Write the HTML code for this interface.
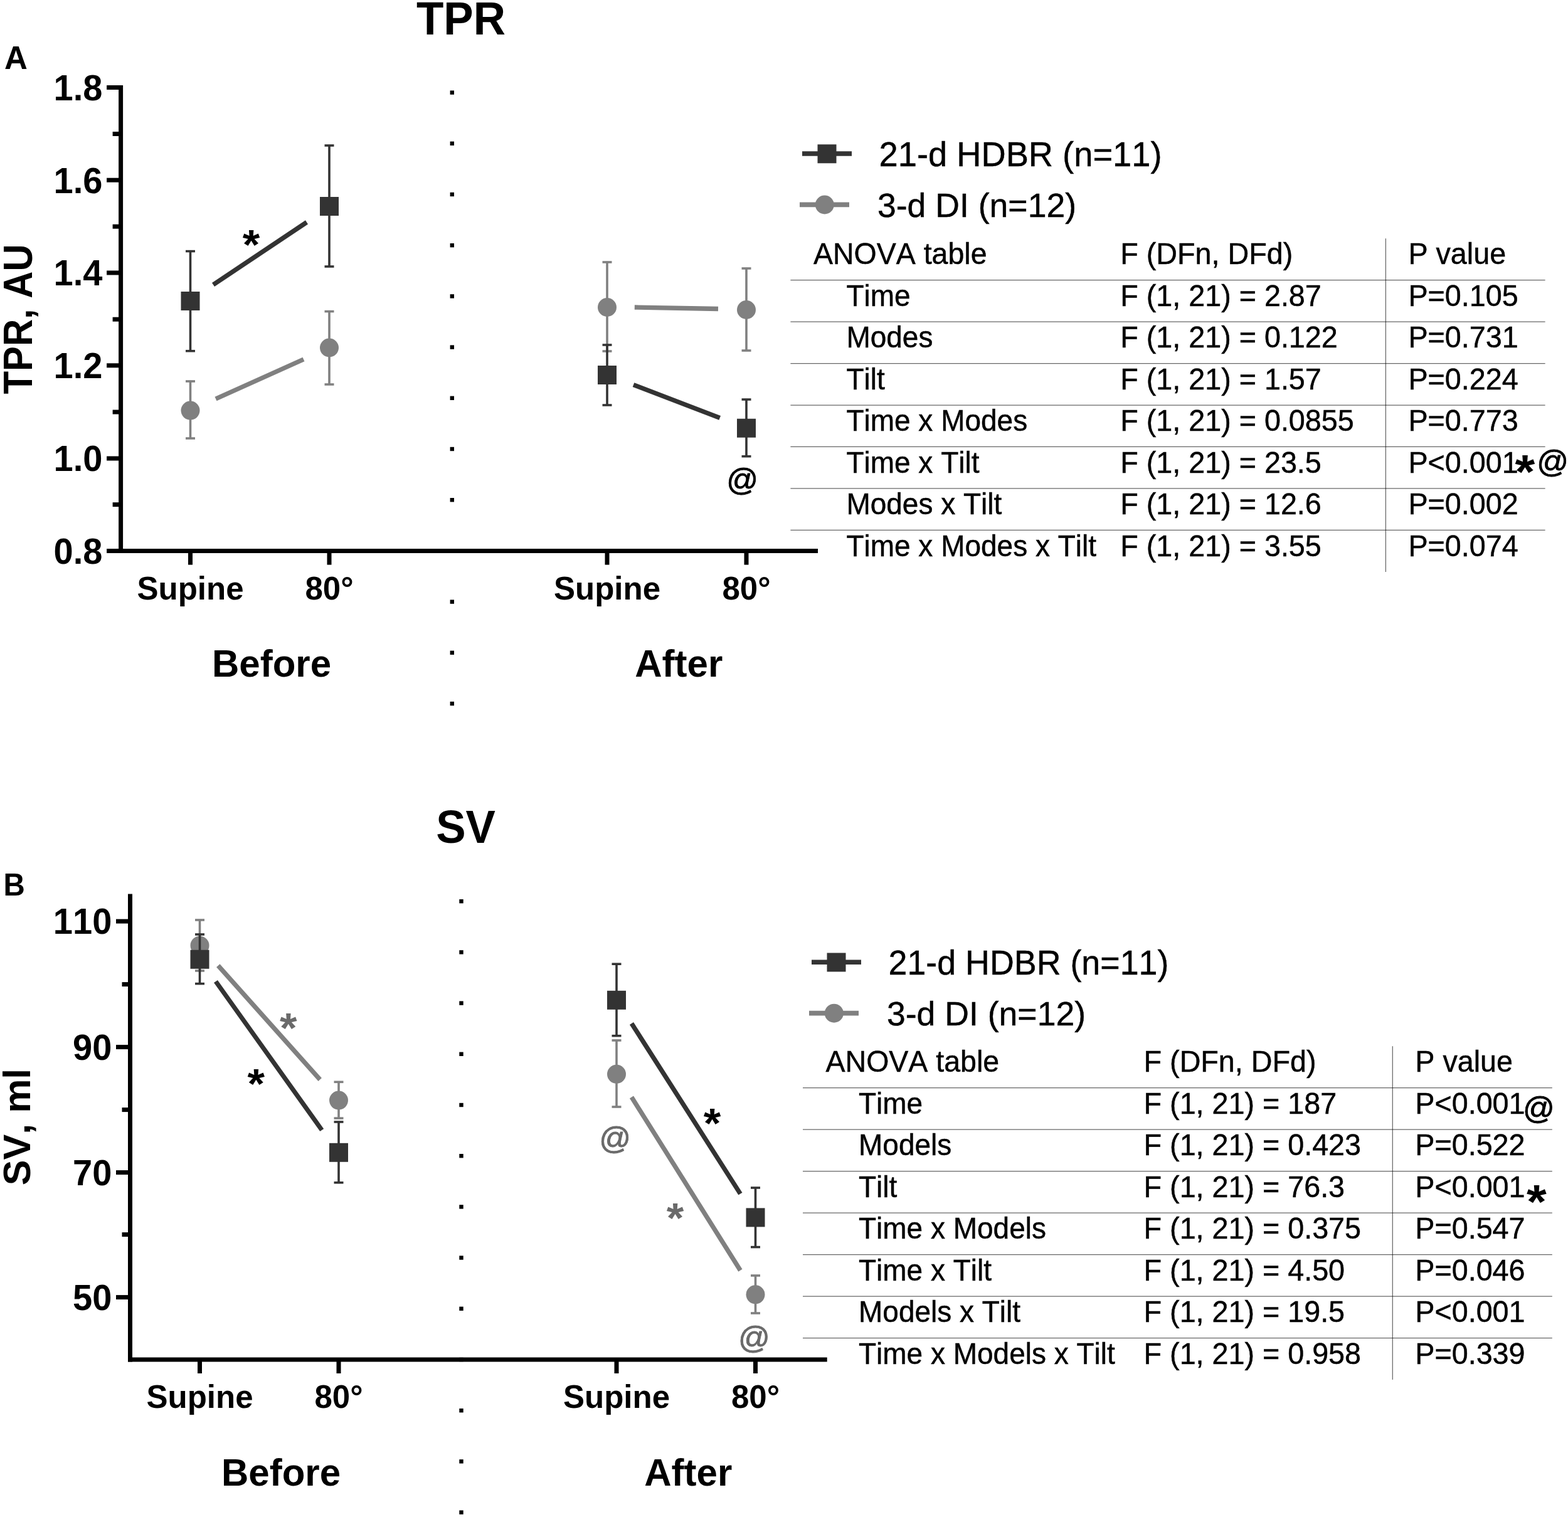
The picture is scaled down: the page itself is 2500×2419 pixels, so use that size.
<!DOCTYPE html>
<html lang="en">
<head>
<meta charset="utf-8">
<title>TPR and SV before and after 21-d HDBR and 3-d DI</title>
<style>
html, body { margin: 0; padding: 0; background: #ffffff; }
body { width: 2500px; height: 2419px; overflow: hidden; }
svg { display: block; }
svg text { font-family: "Liberation Sans", Arial, Helvetica, sans-serif; font-kerning: none; }
</style>
</head>
<body>
<svg width="2500" height="2419" viewBox="0 0 2500 2419">
<rect x="0" y="0" width="2500" height="2419" fill="#ffffff"/>
<g id="panel-a" role="img" aria-label="Panel A: TPR, AU, supine versus 80 degree tilt, before and after exposure, with ANOVA table">
<rect x="717.6" y="144.4" width="6.4" height="6.4" fill="#000000"/>
<rect x="717.6" y="225.6" width="6.4" height="6.4" fill="#000000"/>
<rect x="717.6" y="306.8" width="6.4" height="6.4" fill="#000000"/>
<rect x="717.6" y="388.0" width="6.4" height="6.4" fill="#000000"/>
<rect x="717.6" y="469.2" width="6.4" height="6.4" fill="#000000"/>
<rect x="717.6" y="550.4" width="6.4" height="6.4" fill="#000000"/>
<rect x="717.6" y="631.6" width="6.4" height="6.4" fill="#000000"/>
<rect x="717.6" y="712.8" width="6.4" height="6.4" fill="#000000"/>
<rect x="717.6" y="794.0" width="6.4" height="6.4" fill="#000000"/>
<rect x="717.6" y="875.2" width="6.4" height="6.4" fill="#000000"/>
<rect x="717.6" y="956.4" width="6.4" height="6.4" fill="#000000"/>
<rect x="717.6" y="1037.6" width="6.4" height="6.4" fill="#000000"/>
<rect x="717.6" y="1118.8" width="6.4" height="6.4" fill="#000000"/>
<line x1="192.6" y1="136.0" x2="192.6" y2="882.1" stroke="#000000" stroke-width="7" stroke-linecap="butt"/>
<line x1="170.1" y1="878.6" x2="1304.0" y2="878.6" stroke="#000000" stroke-width="7" stroke-linecap="butt"/>
<line x1="170.1" y1="139.5" x2="192.6" y2="139.5" stroke="#000000" stroke-width="7" stroke-linecap="butt"/>
<text transform="translate(163.40,159.80) scale(1.0,1.04)" font-size="56" font-weight="bold" text-anchor="end">1.8</text>
<line x1="170.1" y1="287.2" x2="192.6" y2="287.2" stroke="#000000" stroke-width="7" stroke-linecap="butt"/>
<text transform="translate(163.40,307.50) scale(1.0,1.04)" font-size="56" font-weight="bold" text-anchor="end">1.6</text>
<line x1="170.1" y1="435.0" x2="192.6" y2="435.0" stroke="#000000" stroke-width="7" stroke-linecap="butt"/>
<text transform="translate(163.40,455.30) scale(1.0,1.04)" font-size="56" font-weight="bold" text-anchor="end">1.4</text>
<line x1="170.1" y1="582.8" x2="192.6" y2="582.8" stroke="#000000" stroke-width="7" stroke-linecap="butt"/>
<text transform="translate(163.40,603.10) scale(1.0,1.04)" font-size="56" font-weight="bold" text-anchor="end">1.2</text>
<line x1="170.1" y1="731.0" x2="192.6" y2="731.0" stroke="#000000" stroke-width="7" stroke-linecap="butt"/>
<text transform="translate(163.40,751.30) scale(1.0,1.04)" font-size="56" font-weight="bold" text-anchor="end">1.0</text>
<text transform="translate(163.40,898.90) scale(1.0,1.04)" font-size="56" font-weight="bold" text-anchor="end">0.8</text>
<line x1="179.6" y1="213.5" x2="192.6" y2="213.5" stroke="#000000" stroke-width="7" stroke-linecap="butt"/>
<line x1="179.6" y1="361.2" x2="192.6" y2="361.2" stroke="#000000" stroke-width="7" stroke-linecap="butt"/>
<line x1="179.6" y1="509.2" x2="192.6" y2="509.2" stroke="#000000" stroke-width="7" stroke-linecap="butt"/>
<line x1="179.6" y1="657.0" x2="192.6" y2="657.0" stroke="#000000" stroke-width="7" stroke-linecap="butt"/>
<line x1="179.6" y1="804.6" x2="192.6" y2="804.6" stroke="#000000" stroke-width="7" stroke-linecap="butt"/>
<line x1="303.5" y1="878.6" x2="303.5" y2="900.6" stroke="#000000" stroke-width="7" stroke-linecap="butt"/>
<text transform="translate(303.50,955.60) scale(1.0,1.03)" font-size="51" font-weight="bold" text-anchor="middle">Supine</text>
<line x1="525.0" y1="878.6" x2="525.0" y2="900.6" stroke="#000000" stroke-width="7" stroke-linecap="butt"/>
<text transform="translate(525.00,955.60) scale(1.0,1.03)" font-size="51" font-weight="bold" text-anchor="middle">80°</text>
<line x1="968.0" y1="878.6" x2="968.0" y2="900.6" stroke="#000000" stroke-width="7" stroke-linecap="butt"/>
<text transform="translate(968.00,955.60) scale(1.0,1.03)" font-size="51" font-weight="bold" text-anchor="middle">Supine</text>
<line x1="1190.0" y1="878.6" x2="1190.0" y2="900.6" stroke="#000000" stroke-width="7" stroke-linecap="butt"/>
<text transform="translate(1190.00,955.60) scale(1.0,1.03)" font-size="51" font-weight="bold" text-anchor="middle">80°</text>
<text transform="translate(433.00,1079.00) scale(1.0,1.02)" font-size="60" font-weight="bold" text-anchor="middle">Before</text>
<text transform="translate(1082.30,1079.00) scale(1.0,1.02)" font-size="60" font-weight="bold" text-anchor="middle">After</text>
<text transform="translate(735.00,54.90) scale(1.0,1.04)" font-size="71" font-weight="bold" text-anchor="middle">TPR</text>
<text transform="translate(25.30,110.30)" font-size="51" font-weight="bold" text-anchor="middle">A</text>
<text transform="translate(50.50,508.90) rotate(-90) scale(1.0,1.07)" font-size="59.8" font-weight="bold" text-anchor="middle">TPR, AU</text>
<line x1="303.5" y1="400.6" x2="303.5" y2="559.7" stroke="#333333" stroke-width="3.6" stroke-linecap="butt"/>
<line x1="296.0" y1="400.6" x2="311.0" y2="400.6" stroke="#333333" stroke-width="3.6" stroke-linecap="butt"/>
<line x1="296.0" y1="559.7" x2="311.0" y2="559.7" stroke="#333333" stroke-width="3.6" stroke-linecap="butt"/>
<line x1="525.0" y1="232.0" x2="525.0" y2="425.0" stroke="#333333" stroke-width="3.6" stroke-linecap="butt"/>
<line x1="517.5" y1="232.0" x2="532.5" y2="232.0" stroke="#333333" stroke-width="3.6" stroke-linecap="butt"/>
<line x1="517.5" y1="425.0" x2="532.5" y2="425.0" stroke="#333333" stroke-width="3.6" stroke-linecap="butt"/>
<line x1="303.5" y1="608.0" x2="303.5" y2="699.0" stroke="#808080" stroke-width="3.6" stroke-linecap="butt"/>
<line x1="296.0" y1="608.0" x2="311.0" y2="608.0" stroke="#808080" stroke-width="3.6" stroke-linecap="butt"/>
<line x1="296.0" y1="699.0" x2="311.0" y2="699.0" stroke="#808080" stroke-width="3.6" stroke-linecap="butt"/>
<line x1="525.0" y1="496.6" x2="525.0" y2="613.0" stroke="#808080" stroke-width="3.6" stroke-linecap="butt"/>
<line x1="517.5" y1="496.6" x2="532.5" y2="496.6" stroke="#808080" stroke-width="3.6" stroke-linecap="butt"/>
<line x1="517.5" y1="613.0" x2="532.5" y2="613.0" stroke="#808080" stroke-width="3.6" stroke-linecap="butt"/>
<line x1="968.0" y1="418.0" x2="968.0" y2="560.0" stroke="#808080" stroke-width="3.6" stroke-linecap="butt"/>
<line x1="960.5" y1="418.0" x2="975.5" y2="418.0" stroke="#808080" stroke-width="3.6" stroke-linecap="butt"/>
<line x1="960.5" y1="560.0" x2="975.5" y2="560.0" stroke="#808080" stroke-width="3.6" stroke-linecap="butt"/>
<line x1="1190.0" y1="428.0" x2="1190.0" y2="559.0" stroke="#808080" stroke-width="3.6" stroke-linecap="butt"/>
<line x1="1182.5" y1="428.0" x2="1197.5" y2="428.0" stroke="#808080" stroke-width="3.6" stroke-linecap="butt"/>
<line x1="1182.5" y1="559.0" x2="1197.5" y2="559.0" stroke="#808080" stroke-width="3.6" stroke-linecap="butt"/>
<line x1="968.0" y1="550.0" x2="968.0" y2="646.0" stroke="#333333" stroke-width="3.6" stroke-linecap="butt"/>
<line x1="960.5" y1="550.0" x2="975.5" y2="550.0" stroke="#333333" stroke-width="3.6" stroke-linecap="butt"/>
<line x1="960.5" y1="646.0" x2="975.5" y2="646.0" stroke="#333333" stroke-width="3.6" stroke-linecap="butt"/>
<line x1="1190.0" y1="637.0" x2="1190.0" y2="727.7" stroke="#333333" stroke-width="3.6" stroke-linecap="butt"/>
<line x1="1182.5" y1="637.0" x2="1197.5" y2="637.0" stroke="#333333" stroke-width="3.6" stroke-linecap="butt"/>
<line x1="1182.5" y1="727.7" x2="1197.5" y2="727.7" stroke="#333333" stroke-width="3.6" stroke-linecap="butt"/>
<circle cx="303.5" cy="654.6" r="15" fill="#808080"/>
<circle cx="525.0" cy="554.5" r="15" fill="#808080"/>
<circle cx="968.0" cy="490.0" r="15" fill="#808080"/>
<circle cx="1190.0" cy="494.0" r="15" fill="#808080"/>
<rect x="288.5" y="465.0" width="30.0" height="30.0" fill="#333333"/>
<rect x="510.0" y="314.0" width="30.0" height="30.0" fill="#333333"/>
<rect x="953.0" y="583.0" width="30.0" height="30.0" fill="#333333"/>
<rect x="1175.0" y="667.7" width="30.0" height="30.0" fill="#333333"/>
<line x1="340.0" y1="454.0" x2="489.0" y2="354.4" stroke="#333333" stroke-width="7.3" stroke-linecap="butt"/>
<line x1="344.0" y1="636.0" x2="484.0" y2="573.0" stroke="#808080" stroke-width="7.3" stroke-linecap="butt"/>
<line x1="1011.8" y1="490.0" x2="1145.0" y2="492.5" stroke="#808080" stroke-width="7.3" stroke-linecap="butt"/>
<line x1="1010.0" y1="613.6" x2="1147.7" y2="666.4" stroke="#333333" stroke-width="7.3" stroke-linecap="butt"/>
<text transform="translate(400.60,413.00) scale(1.01,0.96)" font-size="70" font-weight="bold" text-anchor="middle">*</text>
<text transform="translate(1183.50,781.90)" font-size="50" text-anchor="middle" stroke="#000000" stroke-width="0.9">@</text>
<line x1="1279.0" y1="245.0" x2="1358.0" y2="245.0" stroke="#333333" stroke-width="7.6" stroke-linecap="butt"/>
<rect x="1303.5" y="230.3" width="30.0" height="30.0" fill="#333333"/>
<text transform="translate(1401.50,264.90) scale(0.998,1.01)" font-size="54.4" stroke="#000000" stroke-width="0.45">21-d HDBR (n=11)</text>
<line x1="1275.0" y1="326.4" x2="1354.0" y2="326.4" stroke="#808080" stroke-width="7.6" stroke-linecap="butt"/>
<circle cx="1314.8" cy="326.5" r="15" fill="#808080"/>
<text transform="translate(1398.90,346.20) scale(1.0,1.017)" font-size="53.6" stroke="#000000" stroke-width="0.45">3-d DI (n=12)</text>
<line x1="1260.4" y1="446.60" x2="2463.6" y2="446.60" stroke="#000" stroke-opacity="0.6" stroke-width="1.25"/>
<line x1="1260.4" y1="513.07" x2="2463.6" y2="513.07" stroke="#000" stroke-opacity="0.6" stroke-width="1.25"/>
<line x1="1260.4" y1="579.54" x2="2463.6" y2="579.54" stroke="#000" stroke-opacity="0.6" stroke-width="1.25"/>
<line x1="1260.4" y1="646.01" x2="2463.6" y2="646.01" stroke="#000" stroke-opacity="0.6" stroke-width="1.25"/>
<line x1="1260.4" y1="712.48" x2="2463.6" y2="712.48" stroke="#000" stroke-opacity="0.6" stroke-width="1.25"/>
<line x1="1260.4" y1="778.95" x2="2463.6" y2="778.95" stroke="#000" stroke-opacity="0.6" stroke-width="1.25"/>
<line x1="1260.4" y1="845.42" x2="2463.6" y2="845.42" stroke="#000" stroke-opacity="0.6" stroke-width="1.25"/>
<line x1="2209.40" y1="380.2" x2="2209.40" y2="911.9" stroke="#000" stroke-opacity="0.6" stroke-width="1.25"/>
<text transform="translate(1297.00,421.20) scale(0.996,1.03)" font-size="46.7" stroke="#000000" stroke-width="0.45">ANOVA table</text>
<text transform="translate(1786.30,421.20) scale(1.0,1.03)" font-size="46.7" stroke="#000000" stroke-width="0.45">F (DFn, DFd)</text>
<text transform="translate(2245.40,421.20) scale(1.0,1.03)" font-size="46.7" stroke="#000000" stroke-width="0.45">P value</text>
<text transform="translate(1349.40,487.70) scale(0.985,1.03)" font-size="46.7" stroke="#000000" stroke-width="0.45">Time</text>
<text transform="translate(1786.30,487.70) scale(1.0,1.03)" font-size="46.7" stroke="#000000" stroke-width="0.45">F (1, 21) = 2.87</text>
<text transform="translate(2245.40,487.70) scale(1.0,1.03)" font-size="46.7" stroke="#000000" stroke-width="0.45">P=0.105</text>
<text transform="translate(1349.40,554.17) scale(0.985,1.03)" font-size="46.7" stroke="#000000" stroke-width="0.45">Modes</text>
<text transform="translate(1786.30,554.17) scale(1.0,1.03)" font-size="46.7" stroke="#000000" stroke-width="0.45">F (1, 21) = 0.122</text>
<text transform="translate(2245.40,554.17) scale(1.0,1.03)" font-size="46.7" stroke="#000000" stroke-width="0.45">P=0.731</text>
<text transform="translate(1349.40,620.64) scale(0.985,1.03)" font-size="46.7" stroke="#000000" stroke-width="0.45">Tilt</text>
<text transform="translate(1786.30,620.64) scale(1.0,1.03)" font-size="46.7" stroke="#000000" stroke-width="0.45">F (1, 21) = 1.57</text>
<text transform="translate(2245.40,620.64) scale(1.0,1.03)" font-size="46.7" stroke="#000000" stroke-width="0.45">P=0.224</text>
<text transform="translate(1349.40,687.11) scale(0.985,1.03)" font-size="46.7" stroke="#000000" stroke-width="0.45">Time x Modes</text>
<text transform="translate(1786.30,687.11) scale(1.0,1.03)" font-size="46.7" stroke="#000000" stroke-width="0.45">F (1, 21) = 0.0855</text>
<text transform="translate(2245.40,687.11) scale(1.0,1.03)" font-size="46.7" stroke="#000000" stroke-width="0.45">P=0.773</text>
<text transform="translate(1349.40,753.58) scale(0.985,1.03)" font-size="46.7" stroke="#000000" stroke-width="0.45">Time x Tilt</text>
<text transform="translate(1786.30,753.58) scale(1.0,1.03)" font-size="46.7" stroke="#000000" stroke-width="0.45">F (1, 21) = 23.5</text>
<text transform="translate(2245.40,753.58) scale(1.0,1.03)" font-size="46.7" stroke="#000000" stroke-width="0.45">P&lt;0.001</text>
<text transform="translate(1349.40,820.05) scale(0.985,1.03)" font-size="46.7" stroke="#000000" stroke-width="0.45">Modes x Tilt</text>
<text transform="translate(1786.30,820.05) scale(1.0,1.03)" font-size="46.7" stroke="#000000" stroke-width="0.45">F (1, 21) = 12.6</text>
<text transform="translate(2245.40,820.05) scale(1.0,1.03)" font-size="46.7" stroke="#000000" stroke-width="0.45">P=0.002</text>
<text transform="translate(1349.40,886.52) scale(0.985,1.03)" font-size="46.7" stroke="#000000" stroke-width="0.45">Time x Modes x Tilt</text>
<text transform="translate(1786.30,886.52) scale(1.0,1.03)" font-size="46.7" stroke="#000000" stroke-width="0.45">F (1, 21) = 3.55</text>
<text transform="translate(2245.40,886.52) scale(1.0,1.03)" font-size="46.7" stroke="#000000" stroke-width="0.45">P=0.074</text>
<text transform="translate(2415.60,777.70) scale(1.02,0.94)" font-size="80" font-weight="bold">*</text>
<text transform="translate(2450.20,753.40)" font-size="50" stroke="#000000" stroke-width="0.9">@</text>
</g>
<g id="panel-b" role="img" aria-label="Panel B: SV, ml, supine versus 80 degree tilt, before and after exposure, with ANOVA table">
<rect x="732.3" y="1434.0" width="6.4" height="6.4" fill="#000000"/>
<rect x="732.3" y="1515.2" width="6.4" height="6.4" fill="#000000"/>
<rect x="732.3" y="1596.4" width="6.4" height="6.4" fill="#000000"/>
<rect x="732.3" y="1677.6" width="6.4" height="6.4" fill="#000000"/>
<rect x="732.3" y="1758.8" width="6.4" height="6.4" fill="#000000"/>
<rect x="732.3" y="1840.0" width="6.4" height="6.4" fill="#000000"/>
<rect x="732.3" y="1921.2" width="6.4" height="6.4" fill="#000000"/>
<rect x="732.3" y="2002.4" width="6.4" height="6.4" fill="#000000"/>
<rect x="732.3" y="2083.6" width="6.4" height="6.4" fill="#000000"/>
<rect x="732.3" y="2164.8" width="6.4" height="6.4" fill="#000000"/>
<rect x="732.3" y="2246.0" width="6.4" height="6.4" fill="#000000"/>
<rect x="732.3" y="2327.2" width="6.4" height="6.4" fill="#000000"/>
<rect x="732.3" y="2408.4" width="6.4" height="6.4" fill="#000000"/>
<line x1="207.5" y1="1425.4" x2="207.5" y2="2171.5" stroke="#000000" stroke-width="7" stroke-linecap="butt"/>
<line x1="204.0" y1="2168.0" x2="1318.7" y2="2168.0" stroke="#000000" stroke-width="7" stroke-linecap="butt"/>
<line x1="185.0" y1="1469.1" x2="207.5" y2="1469.1" stroke="#000000" stroke-width="7" stroke-linecap="butt"/>
<text transform="translate(178.30,1489.40) scale(1.0,1.04)" font-size="56" font-weight="bold" text-anchor="end">110</text>
<line x1="185.0" y1="1669.6" x2="207.5" y2="1669.6" stroke="#000000" stroke-width="7" stroke-linecap="butt"/>
<text transform="translate(178.30,1689.90) scale(1.0,1.04)" font-size="56" font-weight="bold" text-anchor="end">90</text>
<line x1="185.0" y1="1869.6" x2="207.5" y2="1869.6" stroke="#000000" stroke-width="7" stroke-linecap="butt"/>
<text transform="translate(178.30,1889.90) scale(1.0,1.04)" font-size="56" font-weight="bold" text-anchor="end">70</text>
<line x1="185.0" y1="2068.6" x2="207.5" y2="2068.6" stroke="#000000" stroke-width="7" stroke-linecap="butt"/>
<text transform="translate(178.30,2088.90) scale(1.0,1.04)" font-size="56" font-weight="bold" text-anchor="end">50</text>
<line x1="194.5" y1="1569.6" x2="207.5" y2="1569.6" stroke="#000000" stroke-width="7" stroke-linecap="butt"/>
<line x1="194.5" y1="1769.6" x2="207.5" y2="1769.6" stroke="#000000" stroke-width="7" stroke-linecap="butt"/>
<line x1="194.5" y1="1968.6" x2="207.5" y2="1968.6" stroke="#000000" stroke-width="7" stroke-linecap="butt"/>
<line x1="318.5" y1="2168.0" x2="318.5" y2="2190.0" stroke="#000000" stroke-width="7" stroke-linecap="butt"/>
<text transform="translate(318.50,2245.00) scale(1.0,1.03)" font-size="51" font-weight="bold" text-anchor="middle">Supine</text>
<line x1="540.0" y1="2168.0" x2="540.0" y2="2190.0" stroke="#000000" stroke-width="7" stroke-linecap="butt"/>
<text transform="translate(540.00,2245.00) scale(1.0,1.03)" font-size="51" font-weight="bold" text-anchor="middle">80°</text>
<line x1="983.0" y1="2168.0" x2="983.0" y2="2190.0" stroke="#000000" stroke-width="7" stroke-linecap="butt"/>
<text transform="translate(983.00,2245.00) scale(1.0,1.03)" font-size="51" font-weight="bold" text-anchor="middle">Supine</text>
<line x1="1204.5" y1="2168.0" x2="1204.5" y2="2190.0" stroke="#000000" stroke-width="7" stroke-linecap="butt"/>
<text transform="translate(1204.50,2245.00) scale(1.0,1.03)" font-size="51" font-weight="bold" text-anchor="middle">80°</text>
<text transform="translate(448.00,2369.00) scale(1.0,1.02)" font-size="60" font-weight="bold" text-anchor="middle">Before</text>
<text transform="translate(1097.30,2369.00) scale(1.0,1.02)" font-size="60" font-weight="bold" text-anchor="middle">After</text>
<text transform="translate(742.50,1344.40) scale(1.0,1.04)" font-size="71" font-weight="bold" text-anchor="middle">SV</text>
<text transform="translate(22.60,1427.50) scale(1.0,1.05)" font-size="47.5" font-weight="bold" text-anchor="middle">B</text>
<text transform="translate(48.40,1796.90) rotate(-90)" font-size="61.0" font-weight="bold" text-anchor="middle">SV, ml</text>
<line x1="318.5" y1="1467.0" x2="318.5" y2="1548.0" stroke="#808080" stroke-width="3.6" stroke-linecap="butt"/>
<line x1="311.0" y1="1467.0" x2="326.0" y2="1467.0" stroke="#808080" stroke-width="3.6" stroke-linecap="butt"/>
<line x1="311.0" y1="1548.0" x2="326.0" y2="1548.0" stroke="#808080" stroke-width="3.6" stroke-linecap="butt"/>
<line x1="540.0" y1="1725.3" x2="540.0" y2="1783.1" stroke="#808080" stroke-width="3.6" stroke-linecap="butt"/>
<line x1="532.5" y1="1725.3" x2="547.5" y2="1725.3" stroke="#808080" stroke-width="3.6" stroke-linecap="butt"/>
<line x1="532.5" y1="1783.1" x2="547.5" y2="1783.1" stroke="#808080" stroke-width="3.6" stroke-linecap="butt"/>
<circle cx="318.5" cy="1507.7" r="15" fill="#808080"/>
<circle cx="540.0" cy="1754.6" r="15" fill="#808080"/>
<line x1="318.5" y1="1490.0" x2="318.5" y2="1568.6" stroke="#333333" stroke-width="3.6" stroke-linecap="butt"/>
<line x1="311.0" y1="1490.0" x2="326.0" y2="1490.0" stroke="#333333" stroke-width="3.6" stroke-linecap="butt"/>
<line x1="311.0" y1="1568.6" x2="326.0" y2="1568.6" stroke="#333333" stroke-width="3.6" stroke-linecap="butt"/>
<line x1="540.0" y1="1789.0" x2="540.0" y2="1885.8" stroke="#333333" stroke-width="3.6" stroke-linecap="butt"/>
<line x1="532.5" y1="1789.0" x2="547.5" y2="1789.0" stroke="#333333" stroke-width="3.6" stroke-linecap="butt"/>
<line x1="532.5" y1="1885.8" x2="547.5" y2="1885.8" stroke="#333333" stroke-width="3.6" stroke-linecap="butt"/>
<line x1="983.0" y1="1659.0" x2="983.0" y2="1765.0" stroke="#808080" stroke-width="3.6" stroke-linecap="butt"/>
<line x1="975.5" y1="1659.0" x2="990.5" y2="1659.0" stroke="#808080" stroke-width="3.6" stroke-linecap="butt"/>
<line x1="975.5" y1="1765.0" x2="990.5" y2="1765.0" stroke="#808080" stroke-width="3.6" stroke-linecap="butt"/>
<line x1="1204.5" y1="2034.0" x2="1204.5" y2="2094.0" stroke="#808080" stroke-width="3.6" stroke-linecap="butt"/>
<line x1="1197.0" y1="2034.0" x2="1212.0" y2="2034.0" stroke="#808080" stroke-width="3.6" stroke-linecap="butt"/>
<line x1="1197.0" y1="2094.0" x2="1212.0" y2="2094.0" stroke="#808080" stroke-width="3.6" stroke-linecap="butt"/>
<circle cx="983.0" cy="1712.8" r="15" fill="#808080"/>
<circle cx="1204.5" cy="2064.3" r="15" fill="#808080"/>
<line x1="983.0" y1="1537.2" x2="983.0" y2="1651.7" stroke="#333333" stroke-width="3.6" stroke-linecap="butt"/>
<line x1="975.5" y1="1537.2" x2="990.5" y2="1537.2" stroke="#333333" stroke-width="3.6" stroke-linecap="butt"/>
<line x1="975.5" y1="1651.7" x2="990.5" y2="1651.7" stroke="#333333" stroke-width="3.6" stroke-linecap="butt"/>
<line x1="1204.5" y1="1894.0" x2="1204.5" y2="1988.6" stroke="#333333" stroke-width="3.6" stroke-linecap="butt"/>
<line x1="1197.0" y1="1894.0" x2="1212.0" y2="1894.0" stroke="#333333" stroke-width="3.6" stroke-linecap="butt"/>
<line x1="1197.0" y1="1988.6" x2="1212.0" y2="1988.6" stroke="#333333" stroke-width="3.6" stroke-linecap="butt"/>
<rect x="303.5" y="1514.8" width="30.0" height="30.0" fill="#333333"/>
<rect x="525.0" y="1822.8" width="30.0" height="30.0" fill="#333333"/>
<rect x="968.0" y="1579.8" width="30.0" height="30.0" fill="#333333"/>
<rect x="1189.5" y="1926.4" width="30.0" height="30.0" fill="#333333"/>
<line x1="347.8" y1="1539.8" x2="510.2" y2="1721.5" stroke="#808080" stroke-width="7.3" stroke-linecap="butt"/>
<line x1="344.0" y1="1565.0" x2="513.2" y2="1802.0" stroke="#333333" stroke-width="7.3" stroke-linecap="butt"/>
<line x1="1007.0" y1="1632.0" x2="1180.4" y2="1903.6" stroke="#333333" stroke-width="7.3" stroke-linecap="butt"/>
<line x1="1007.0" y1="1749.5" x2="1180.4" y2="2025.7" stroke="#808080" stroke-width="7.3" stroke-linecap="butt"/>
<text transform="translate(459.80,1662.10) scale(1.01,0.96)" font-size="70" font-weight="bold" text-anchor="middle" fill="#6a6a6a">*</text>
<text transform="translate(408.20,1750.90) scale(1.01,0.96)" font-size="70" font-weight="bold" text-anchor="middle">*</text>
<text transform="translate(1135.60,1813.70) scale(1.01,0.96)" font-size="70" font-weight="bold" text-anchor="middle">*</text>
<text transform="translate(1076.50,1964.90) scale(1.01,0.96)" font-size="70" font-weight="bold" text-anchor="middle" fill="#6a6a6a">*</text>
<text transform="translate(980.50,1832.30)" font-size="50" text-anchor="middle" fill="#6a6a6a" stroke="#6a6a6a" stroke-width="0.9">@</text>
<text transform="translate(1202.30,2149.80)" font-size="50" text-anchor="middle" fill="#6a6a6a" stroke="#6a6a6a" stroke-width="0.9">@</text>
<line x1="1294.0" y1="1534.2" x2="1373.0" y2="1534.2" stroke="#333333" stroke-width="7.6" stroke-linecap="butt"/>
<rect x="1318.5" y="1519.5" width="30.0" height="30.0" fill="#333333"/>
<text transform="translate(1416.50,1554.10) scale(0.989018,1.01)" font-size="54.4" stroke="#000000" stroke-width="0.45">21-d HDBR (n=11)</text>
<line x1="1290.0" y1="1615.6" x2="1369.0" y2="1615.6" stroke="#808080" stroke-width="7.6" stroke-linecap="butt"/>
<circle cx="1329.8" cy="1615.7" r="15" fill="#808080"/>
<text transform="translate(1413.90,1635.40) scale(1.0,1.017)" font-size="53.6" stroke="#000000" stroke-width="0.45">3-d DI (n=12)</text>
<line x1="1280.0" y1="1734.70" x2="2474.8" y2="1734.70" stroke="#000" stroke-opacity="0.6" stroke-width="1.25"/>
<line x1="1280.0" y1="1801.17" x2="2474.8" y2="1801.17" stroke="#000" stroke-opacity="0.6" stroke-width="1.25"/>
<line x1="1280.0" y1="1867.64" x2="2474.8" y2="1867.64" stroke="#000" stroke-opacity="0.6" stroke-width="1.25"/>
<line x1="1280.0" y1="1934.11" x2="2474.8" y2="1934.11" stroke="#000" stroke-opacity="0.6" stroke-width="1.25"/>
<line x1="1280.0" y1="2000.58" x2="2474.8" y2="2000.58" stroke="#000" stroke-opacity="0.6" stroke-width="1.25"/>
<line x1="1280.0" y1="2067.05" x2="2474.8" y2="2067.05" stroke="#000" stroke-opacity="0.6" stroke-width="1.25"/>
<line x1="1280.0" y1="2133.52" x2="2474.8" y2="2133.52" stroke="#000" stroke-opacity="0.6" stroke-width="1.25"/>
<line x1="2220.30" y1="1668.3" x2="2220.30" y2="2200.0" stroke="#000" stroke-opacity="0.6" stroke-width="1.25"/>
<text transform="translate(1316.60,1709.30) scale(0.996,1.03)" font-size="46.7" stroke="#000000" stroke-width="0.45">ANOVA table</text>
<text transform="translate(1823.60,1709.30) scale(1.0,1.03)" font-size="46.7" stroke="#000000" stroke-width="0.45">F (DFn, DFd)</text>
<text transform="translate(2256.30,1709.30) scale(1.0,1.03)" font-size="46.7" stroke="#000000" stroke-width="0.45">P value</text>
<text transform="translate(1369.00,1775.80) scale(0.985,1.03)" font-size="46.7" stroke="#000000" stroke-width="0.45">Time</text>
<text transform="translate(1823.60,1775.80) scale(1.0,1.03)" font-size="46.7" stroke="#000000" stroke-width="0.45">F (1, 21) = 187</text>
<text transform="translate(2256.30,1775.80) scale(1.0,1.03)" font-size="46.7" stroke="#000000" stroke-width="0.45">P&lt;0.001</text>
<text transform="translate(1369.00,1842.27) scale(0.985,1.03)" font-size="46.7" stroke="#000000" stroke-width="0.45">Models</text>
<text transform="translate(1823.60,1842.27) scale(1.0,1.03)" font-size="46.7" stroke="#000000" stroke-width="0.45">F (1, 21) = 0.423</text>
<text transform="translate(2256.30,1842.27) scale(1.0,1.03)" font-size="46.7" stroke="#000000" stroke-width="0.45">P=0.522</text>
<text transform="translate(1369.00,1908.74) scale(0.985,1.03)" font-size="46.7" stroke="#000000" stroke-width="0.45">Tilt</text>
<text transform="translate(1823.60,1908.74) scale(1.0,1.03)" font-size="46.7" stroke="#000000" stroke-width="0.45">F (1, 21) = 76.3</text>
<text transform="translate(2256.30,1908.74) scale(1.0,1.03)" font-size="46.7" stroke="#000000" stroke-width="0.45">P&lt;0.001</text>
<text transform="translate(1369.00,1975.21) scale(0.985,1.03)" font-size="46.7" stroke="#000000" stroke-width="0.45">Time x Models</text>
<text transform="translate(1823.60,1975.21) scale(1.0,1.03)" font-size="46.7" stroke="#000000" stroke-width="0.45">F (1, 21) = 0.375</text>
<text transform="translate(2256.30,1975.21) scale(1.0,1.03)" font-size="46.7" stroke="#000000" stroke-width="0.45">P=0.547</text>
<text transform="translate(1369.00,2041.68) scale(0.985,1.03)" font-size="46.7" stroke="#000000" stroke-width="0.45">Time x Tilt</text>
<text transform="translate(1823.60,2041.68) scale(1.0,1.03)" font-size="46.7" stroke="#000000" stroke-width="0.45">F (1, 21) = 4.50</text>
<text transform="translate(2256.30,2041.68) scale(1.0,1.03)" font-size="46.7" stroke="#000000" stroke-width="0.45">P=0.046</text>
<text transform="translate(1369.00,2108.15) scale(0.985,1.03)" font-size="46.7" stroke="#000000" stroke-width="0.45">Models x Tilt</text>
<text transform="translate(1823.60,2108.15) scale(1.0,1.03)" font-size="46.7" stroke="#000000" stroke-width="0.45">F (1, 21) = 19.5</text>
<text transform="translate(2256.30,2108.15) scale(1.0,1.03)" font-size="46.7" stroke="#000000" stroke-width="0.45">P&lt;0.001</text>
<text transform="translate(1369.00,2174.62) scale(0.985,1.03)" font-size="46.7" stroke="#000000" stroke-width="0.45">Time x Models x Tilt</text>
<text transform="translate(1823.60,2174.62) scale(1.0,1.03)" font-size="46.7" stroke="#000000" stroke-width="0.45">F (1, 21) = 0.958</text>
<text transform="translate(2256.30,2174.62) scale(1.0,1.03)" font-size="46.7" stroke="#000000" stroke-width="0.45">P=0.339</text>
<text transform="translate(2428.00,1784.30)" font-size="50" stroke="#000000" stroke-width="0.9">@</text>
<text transform="translate(2434.00,1941.50) scale(1.02,0.94)" font-size="80" font-weight="bold">*</text>
</g>
</svg>
</body>
</html>
